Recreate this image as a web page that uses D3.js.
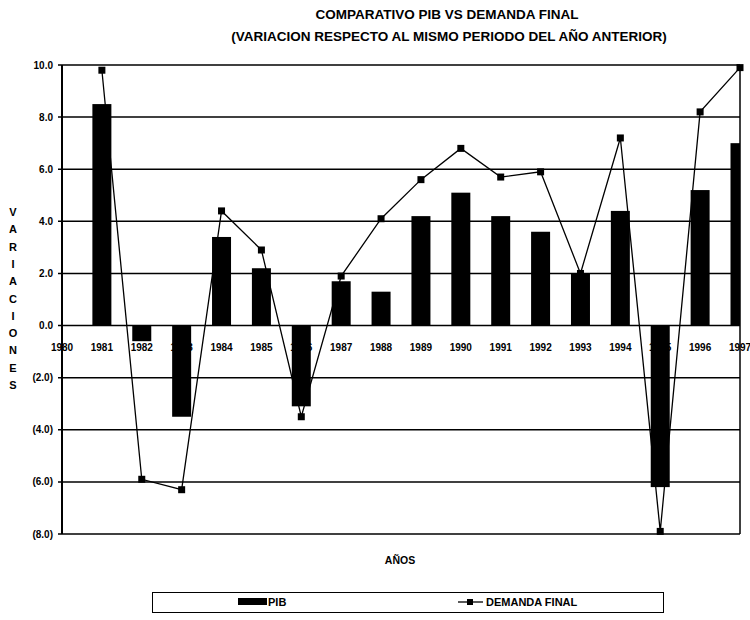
<!DOCTYPE html>
<html>
<head>
<meta charset="utf-8">
<script src="https://cdn.jsdelivr.net/npm/d3@7"></script>
<style>
  body { margin: 0; background: #fff; }
  text { font-family: "Liberation Sans", Arial, sans-serif; font-weight: bold; fill: #000; }
</style>
</head>
<body>
<svg id="chart"></svg>
<script>
// PIB vs demanda final
var W = 750;
var H = 620;
margin = {top: 65, right: 10, bottom: 86, left: 62};

var years = [1981, 1982, 1983, 1984, 1985, 1986, 1987, 1988, 1989, 1990, 1991, 1992, 1993, 1994, 1995, 1996, 1997];
var pib = [8.5, -0.6, -3.5, 3.4, 2.2, -3.1, 1.7, 1.3, 4.2, 5.1, 4.2, 3.6, 2.0, 4.4, -6.2, 5.2, 7.0];
var demanda = [9.8, -5.9, -6.3, 4.4, 2.9, -3.5, 1.9, 4.1, 5.6, 6.8, 5.7, 5.9, 2.0, 7.2, -7.9, 8.2, 9.9];
var xTicks = [1980, 1981, 1982, 1983, 1984, 1985, 1986, 1987, 1988, 1989, 1990, 1991, 1992, 1993, 1994, 1995, 1996, 1997];
var yTicks = [10, 8, 6, 4, 2, 0, -2, -4, -6, -8];

var data = years.map((y, i) => ({year: y, pib: pib[i], dem: demanda[i]}));

var svg = d3.select("#chart")
  .attr("width", W)
  .attr("height", H);

svg.append("rect")
  .attr("width", "100%")
  .attr("height", "100%")
  .attr("fill", "white");

x = d3.scaleLinear()
  .domain([1980, 1997])
  .range([margin.left, W - margin.right]);

y = d3.scaleLinear()
  .domain([-8, 10])
  .range([H - margin.bottom, margin.top]);

var barW = 19;

svg.append("defs").append("clipPath")
  .attr("id", "plot-clip")
  .append("rect")
  .attr("x", x(1980))
  .attr("y", y(10) - 10)
  .attr("width", x(1997) - x(1980))
  .attr("height", y(-8) - y(10) + 20);

// titulo
svg.append("text")
  .attr("x", 447)
  .attr("y", 19)
  .attr("text-anchor", "middle")
  .style("font-size", "13.5px")
  .text("COMPARATIVO PIB VS DEMANDA FINAL");

svg.append("text")
  .attr("x", 449)
  .attr("y", 41)
  .attr("text-anchor", "middle")
  .style("font-size", "13.5px")
  .text("(VARIACION RESPECTO AL MISMO PERIODO DEL AÑO ANTERIOR)");

// gridlines
svg.append("g")
  .selectAll("line")
  .data(yTicks)
  .enter()
  .append("line")
  .attr("x1", x(1980) - 4)
  .attr("x2", x(1997))
  .attr("y1", d => y(d))
  .attr("y2", d => y(d))
  .attr("stroke", "#000")
  .attr("stroke-width", 1.5);

// y labels
svg.append("g")
  .selectAll("text")
  .data(yTicks)
  .enter()
  .append("text")
  .attr("x", x(1980) - 9)
  .attr("y", d => y(d))
  .attr("dy", "0.35em")
  .attr("text-anchor", "end")
  .style("font-size", "10px")
  .text(d => d < 0 ? "(" + d3.format(".1f")(-d) + ")" : d3.format(".1f")(d));

// x labels (bars get drawn over them)
svg.append("g")
  .selectAll("text")
  .data(xTicks)
  .enter()
  .append("text")
  .attr("x", d => x(d))
  .attr("y", y(0) + 25)
  .attr("text-anchor", "middle")
  .style("font-size", "10px")
  .text(d => d);

var plot = svg.append("g").attr("clip-path", "url(#plot-clip)");

plot.selectAll("rect")
  .data(data)
  .enter()
  .append("rect")
  .attr("x", d => x(d.year) - barW / 2)
  .attr("y", d => y(Math.max(0, d.pib)))
  .attr("width", barW)
  .attr("height", d => Math.abs(y(d.pib) - y(0)))
  .attr("fill", "#000");

line = d3.line()
  .x(d => x(d.year))
  .y(d => y(d.dem));

svg.append("path")
  .datum(data)
  .attr("fill", "none")
  .attr("stroke", "#000")
  .attr("stroke-width", 1.3)
  .attr("d", line);

svg.append("g")
  .selectAll("rect")
  .data(data)
  .enter()
  .append("rect")
  .attr("x", d => x(d.year) - 3.5)
  .attr("y", d => y(d.dem) - 3.5)
  .attr("width", 7)
  .attr("height", 7)
  .attr("fill", "#000");

// axis + right border
svg.append("line")
  .attr("x1", x(1980)).attr("x2", x(1980))
  .attr("y1", y(10)).attr("y2", y(-8))
  .attr("stroke", "#000")
  .attr("stroke-width", 2);

svg.append("line")
  .attr("x1", x(1997)).attr("x2", x(1997))
  .attr("y1", y(10)).attr("y2", y(-8))
  .attr("stroke", "#000")
  .attr("stroke-width", 1.5);

// y title, one letter per row
var yTitle = "VARIACIONES".split("");
svg.append("g")
  .selectAll("text")
  .data(yTitle)
  .enter()
  .append("text")
  .attr("x", 13)
  .attr("y", (d, i) => 216 + i * 17.3)
  .attr("text-anchor", "middle")
  .style("font-size", "11px")
  .text(d => d);

svg.append("text")
  .attr("x", 400)
  .attr("y", 564)
  .attr("text-anchor", "middle")
  .style("font-size", "10.5px")
  .text("AÑOS");

// legend
var lg = svg.append("g");
lg.append("rect")
  .attr("x", 152.5)
  .attr("y", 592.5)
  .attr("width", 511)
  .attr("height", 20)
  .attr("fill", "none")
  .attr("stroke", "#000")
  .attr("stroke-width", 1);

lg.append("rect")
  .attr("x", 238)
  .attr("y", 598)
  .attr("width", 29)
  .attr("height", 7)
  .attr("fill", "#000");

lg.append("text")
  .attr("x", 268)
  .attr("y", 606)
  .style("font-size", "11px")
  .text("PIB");

lg.append("line")
  .attr("x1", 458).attr("x2", 483)
  .attr("y1", 602).attr("y2", 602)
  .attr("stroke", "#000")
  .attr("stroke-width", 1.3);

lg.append("rect")
  .attr("x", 467)
  .attr("y", 599)
  .attr("width", 6)
  .attr("height", 6)
  .attr("fill", "#000");

lg.append("text")
  .attr("x", 486)
  .attr("y", 606)
  .style("font-size", "11px")
  .text("DEMANDA FINAL");
</script>
</body>
</html>
